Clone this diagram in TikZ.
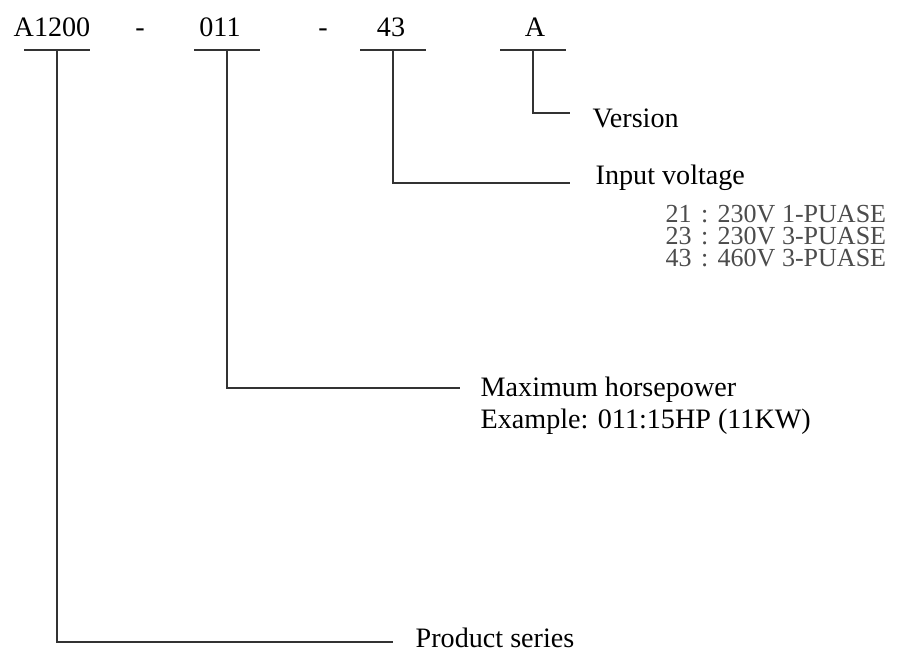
\documentclass[tikz,border=0pt]{standalone}
\usepackage{fontspec}
\setmainfont{Liberation Serif}
\usetikzlibrary{calc}
\usetikzlibrary{positioning}

\definecolor{leadgray}{gray}{0.2}
\definecolor{listgray}{gray}{0.3}

\begin{document}
\begin{tikzpicture}[x=0.01cm, y=-0.01cm, font=\fontsize{8}{9.6}\selectfont,
    code/.style={anchor=base, inner sep=0pt},
    note/.style={anchor=base west, inner sep=0pt},
    bar/.style={draw=leadgray, line width=0.6pt},
    lead/.style={draw=leadgray, line width=0.6pt}]

    % Frame (900 x 650 px)
    \useasboundingbox (0,0) rectangle (900,650);

    % Constants
    \pgfmathsetmacro{\ybase}{36}
    \pgfmathsetmacro{\halfbar}{33}

    % Model code
    \node [code] (ser)  at (52,\ybase)  {A1200};
    \node [code] (d1)   at (140,\ybase) {-};
    \node [code] (hp)   at (220,\ybase) {011};
    \node [code] (d2)   at (323,\ybase) {-};
    \node [code] (volt) at (391,\ybase) {43};
    \node [code] (ver)  at (535,\ybase) {A};

    % Bar centres under each field
    \coordinate (serb)  at ($(ser.base)+(5,14)$);
    \coordinate (hpb)   at ($(hp.base)+(7,14)$);
    \coordinate (voltb) at ($(volt.base)+(2,14)$);
    \coordinate (verb)  at ($(ver.base)+(-2,14)$);

    \foreach \b in {serb,hpb,voltb,verb}
        \draw [bar] ($(\b)+(-\halfbar,0)$) -- ($(\b)+(\halfbar,0)$);

    % Descriptions
    \node [note] (vernote)  at (592,127) {Version};
    \node [note] (voltnote) at (595,184) {Input voltage};
    \foreach \c/\v/\p [count=\i] in {21/230V/1, 23/230V/3, 43/460V/3}
        \node [note, text=listgray, font=\fontsize{7.4}{8.8}\selectfont] (list\i)
            at (665,{222+(\i-1)*22}) {\c\hspace{.36em}:\hspace{.36em}\v\ \p-PUASE};
    \node [note] (hpnote)  at (480,396) {Maximum horsepower};
    \node [note] (hpex)    at (480,428) {Example: 011:15HP (11KW)};
    \node [note] (sernote) at (415,647) {Product series};

    % Leader lines
    \draw [lead] (verb)  |- ($(vernote.base west)+(-22,-14)$);
    \draw [lead] (voltb) |- ($(voltnote.base west)+(-25,-1)$);
    \draw [lead] (hpb)   |- ($(hpnote.base west)+(-20,-8)$);
    \draw [lead] (serb)  |- ($(sernote.base west)+(-22,-5)$);

\end{tikzpicture}
\end{document}
